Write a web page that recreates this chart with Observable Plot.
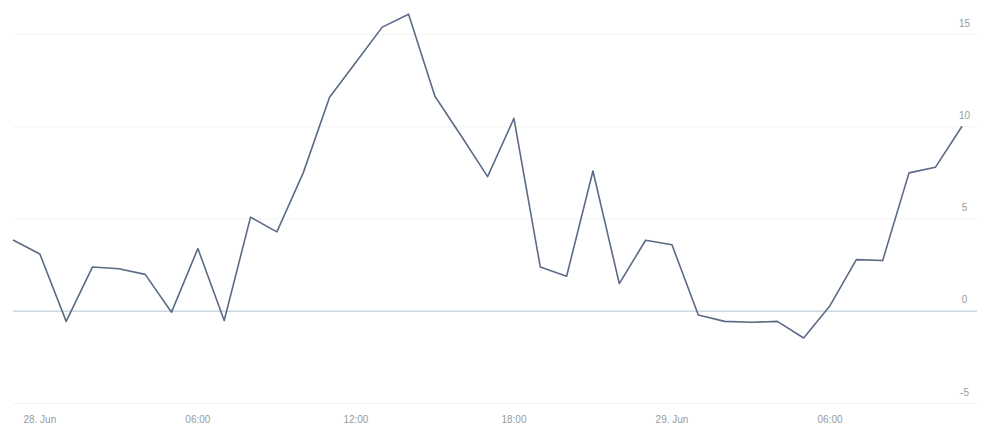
<!DOCTYPE html>
<html>
<head>
<meta charset="utf-8">
<script src="https://cdn.jsdelivr.net/npm/d3@7"></script>
<script src="https://cdn.jsdelivr.net/npm/@observablehq/plot@0.6"></script>
<style>
  html, body { margin: 0; padding: 0; background: #fff; }
  #chart svg { display: block; }
</style>
</head>
<body>
<div id="chart"></div>
<script>
// Hourly temperature readings, starting 27 Jun 23:00 (UTC)
const startHour = Date.UTC(2023, 5, 27, 23);
const temperature = [
  3.85, 3.1, -0.55, 2.4, 2.3, 2.0, -0.05, 3.4, -0.5, 5.1,
  4.3, 7.5, 11.6, 13.5, 15.4, 16.1, 11.65, 9.5, 7.3, 10.45,
  2.4, 1.9, 7.6, 1.5, 3.85, 3.6, -0.2, -0.55, -0.6, -0.55,
  -1.45, 0.3, 2.8, 2.75, 7.5, 7.8, 10.0
];
const xTickTimes = [
  Date.UTC(2023, 5, 28, 0), Date.UTC(2023, 5, 28, 6), Date.UTC(2023, 5, 28, 12),
  Date.UTC(2023, 5, 28, 18), Date.UTC(2023, 5, 29, 0), Date.UTC(2023, 5, 29, 6)
];
const xTickLabels = ["28. Jun", "06:00", "12:00", "18:00", "29. Jun", "06:00"];
const yTicks = [-5, 0, 5, 10, 15];
const yTickLabels = ["-5", "0", "5", "10", "15"];

const data = temperature.map((v, i) => ({time: new Date(startHour + i * 3600e3), value: v}));
const xTicks = xTickTimes.map(t => new Date(t));
const labelOf = new Map(xTickTimes.map((t, i) => [t, xTickLabels[i]]));

const chart = Plot.plot({
  width: 981,
  height: 430,
  marginLeft: 13,
  marginRight: 4,
  marginTop: 34,
  marginBottom: 27,
  style: {fontFamily: "'Liberation Sans', Arial, sans-serif", background: "#fff"},
  x: {type: "utc", domain: [new Date(startHour), new Date(Date.UTC(2023, 5, 29, 11, 36))]},
  y: {domain: [-5, 15], axis: null},
  marks: [
    Plot.gridY(yTicks, {stroke: "#f3f3f3", strokeOpacity: 1}),
    Plot.ruleY([0], {stroke: "#cdd7e1", strokeWidth: 1.5}),
    Plot.line(data, {x: "time", y: "value", stroke: "#5b6b85", strokeWidth: 1.6}),
    Plot.axisX(xTicks, {
      tickSize: 0, tickPadding: 12, fontSize: 10, fill: "#9a9a9a",
      tickFormat: d => labelOf.get(+d), label: null
    }),
    Plot.text(yTicks, {
      y: d => d, text: (d, i) => yTickLabels[i], frameAnchor: "right",
      dx: -13, dy: -11, textAnchor: "middle", fontSize: 10, fill: "#9a9a9a"
    })
  ]
});
document.getElementById("chart").appendChild(chart);
</script>
</body>
</html>
